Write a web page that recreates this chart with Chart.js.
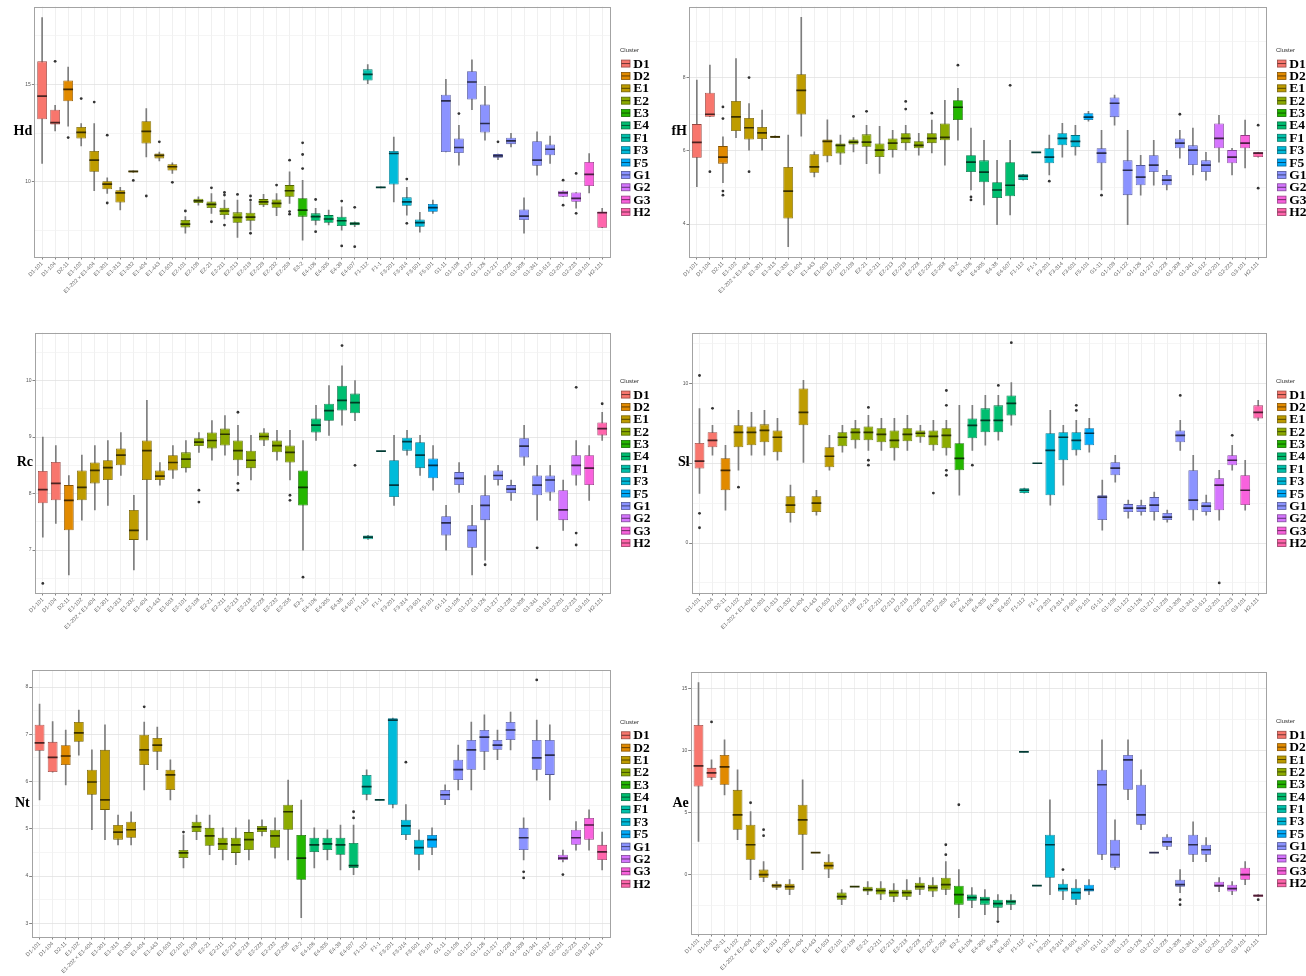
<!DOCTYPE html>
<html>
<head>
<meta charset="utf-8">
<script src="https://cdn.jsdelivr.net/npm/chart.js@4.4.1/dist/chart.umd.min.js"></script>
<style>
  html, body { margin: 0; padding: 0; background: #fff; }
  body { width: 1306px; height: 976px; overflow: hidden; position: relative; }
  canvas { position: absolute; }
</style>
</head>
<body>
<script>
// ---- categories and clusters ----
const clusterNames = ['D1','D2','E1','E2','E3','E4','F1','F3','F5','G1','G2','G3','H2'];
const categories = ['D1-101','D1-104','D2-11','E1-102','E1-202 × E1-404','E1-301','E1-313','E1-332','E1-404','E1-443','E1-503',
  'E2-101','E2-108','E2-21','E2-211','E2-213','E2-218','E2-228','E2-232','E2-258','E3-2','E4-106','E4-305','E4-38','E4-507',
  'F1-112','F1-1','F3-201','F3-314','F3-501','F5-101','G1-11','G1-108','G1-122','G1-126','G1-217','G1-228','G1-308','G1-341',
  'G1-512','G2-201','G2-223','G3-101','H2-121'];
const categoryCluster = [0,0,1,2,2,2,2,2,2,2,2,3,3,3,3,3,3,3,3,3,4,5,5,5,5,6,6,7,7,7,8,9,9,9,9,9,9,9,9,9,10,10,11,12];

// ---- y-axis tick labels per trait ----
const hdTicks = [10, 15];
const fhTicks = [4, 6, 8];
const rcTicks = [7, 8, 9, 10];
const slTicks = [0, 5, 10];
const ntTicks = [3, 4, 5, 6, 7, 8];
const aeTicks = [0, 5, 10, 15];

// ---- box statistics: [lower whisker, Q1, median, Q3, upper whisker] ----
const hdBoxes = [
  [10.94,13.21,14.40,16.18,18.42],[12.61,12.94,13.04,13.70,13.92],[12.85,14.13,14.74,15.20,15.89],[11.84,12.22,12.53,12.81,12.99],
  [9.54,10.51,11.11,11.58,12.99],[9.40,9.62,9.88,10.03,10.20],[8.55,8.94,9.43,9.57,9.71],[10.48,10.48,10.53,10.56,10.56],
  [11.28,11.96,12.59,13.11,13.76],[11.07,11.20,11.35,11.45,11.53],[10.43,10.58,10.77,10.90,10.97],[7.36,7.66,7.83,8.04,8.21],
  [8.80,8.91,9.02,9.13,9.23],[8.38,8.65,8.84,8.99,9.40],[8.09,8.29,8.50,8.67,9.06],[7.15,7.90,8.17,8.43,9.06],
  [7.52,8.00,8.19,8.41,8.97],[8.72,8.80,8.97,9.11,9.35],[8.26,8.67,8.89,9.09,9.40],[8.89,9.23,9.54,9.83,10.51],
  [7.01,8.21,8.55,9.16,10.08],[7.78,8.00,8.21,8.38,8.64],[7.78,7.90,8.09,8.29,8.55],[7.52,7.73,8.00,8.21,8.72],
  [7.70,7.77,7.85,7.92,7.95],[15.04,15.20,15.51,15.77,16.02],[9.69,9.69,9.71,9.74,9.74],[8.97,9.86,11.45,11.58,12.30],
  [8.29,8.77,8.97,9.20,9.71],[7.41,7.69,7.90,8.07,8.43],[8.38,8.46,8.67,8.86,9.06],[11.53,11.53,14.15,14.47,15.26],
  [10.85,11.48,11.76,12.22,12.90],[13.70,14.22,15.12,15.67,16.26],[12.13,12.53,12.99,13.96,14.90],[11.14,11.23,11.33,11.42,11.42],
  [11.79,11.93,12.10,12.26,12.48],[7.36,8.04,8.24,8.58,9.18],[10.34,10.82,11.11,12.08,12.56],[10.94,11.36,11.67,11.91,12.34],
  [9.23,9.23,9.43,9.54,9.54],[8.64,8.97,9.15,9.45,9.45],[9.43,9.78,10.38,11.02,11.45],[7.64,7.64,8.41,8.47,8.64]
];
const hdOutliers = [[1,16.18],[2,12.27],[3,14.27],[4,14.09],[5,12.39],[5,8.91],[7,10.07],[8,9.27],[9,12.05],[10,9.97],[11,8.50],
  [13,9.69],[13,7.95],[14,9.45],[14,9.32],[14,7.78],[15,9.35],[16,9.27],[16,9.06],[16,7.36],[18,9.83],[19,11.11],[19,8.47],[19,8.34],
  [20,12.00],[20,11.40],[20,10.68],[21,9.09],[21,7.44],[23,9.01],[23,6.71],[24,8.69],[24,6.67],[28,10.14],[28,7.87],[32,13.50],
  [35,12.05],[40,10.08],[40,8.80],[41,10.43],[41,8.38]];

const fhBoxes = [
  [5.02,5.81,6.23,6.73,7.93],[6.93,6.93,7.00,7.59,8.34],[5.13,5.65,5.83,6.13,6.38],[6.36,6.54,6.93,7.36,8.52],
  [6.02,6.31,6.63,6.90,7.29],[6.02,6.32,6.49,6.65,7.11],[6.36,6.36,6.38,6.41,6.41],[3.38,4.15,4.90,5.56,6.43],
  [6.40,6.99,7.65,8.09,9.65],[5.29,5.40,5.56,5.91,5.97],[5.70,5.85,6.26,6.31,6.85],[5.63,5.93,6.15,6.20,6.43],
  [5.97,6.17,6.24,6.31,6.36],[5.65,6.11,6.24,6.45,6.70],[5.38,5.83,6.02,6.20,6.67],[5.83,6.02,6.21,6.34,6.56],
  [6.02,6.21,6.34,6.48,6.70],[5.88,6.07,6.15,6.26,6.48],[5.94,6.21,6.34,6.48,6.84],[5.61,6.29,6.37,6.75,7.38],
  [6.29,6.84,7.19,7.38,7.71],[4.93,5.42,5.69,5.88,6.62],[4.52,5.14,5.42,5.74,6.29],[3.98,4.71,4.93,5.14,5.74],
  [4.25,4.76,5.06,5.69,6.29],[5.20,5.20,5.31,5.36,5.36],[5.96,5.96,5.96,5.96,5.96],[5.34,5.66,5.83,6.07,6.43],
  [5.83,6.15,6.34,6.48,6.75],[5.88,6.10,6.26,6.43,6.70],[6.81,6.84,6.92,7.03,7.08],[4.93,5.66,5.94,6.07,6.56],
  [6.70,6.92,7.30,7.46,7.52],[3.98,4.79,5.47,5.74,6.56],[4.79,5.06,5.28,5.61,5.88],[5.06,5.42,5.61,5.88,6.29],
  [4.93,5.06,5.20,5.34,5.47],[5.80,6.07,6.21,6.34,6.56],[5.34,5.61,6.02,6.15,6.62],[5.20,5.42,5.61,5.74,5.96],
  [5.69,6.07,6.34,6.75,6.97],[5.34,5.66,5.83,6.02,6.07],[5.53,6.07,6.21,6.43,6.84],[5.83,5.83,5.94,5.96,5.96]
];
const fhOutliers = [[1,5.43],[2,7.20],[2,6.88],[2,4.90],[2,4.79],[4,8.00],[4,5.43],[12,6.94],[13,7.08],[16,7.35],[16,7.14],
  [18,7.03],[20,8.34],[21,4.74],[21,4.66],[24,7.79],[27,5.17],[31,4.79],[37,7.00],[43,6.70],[43,4.98]];

const rcBoxes = [
  [7.23,7.83,8.07,8.40,9.00],[7.47,7.88,8.18,8.56,8.85],[6.56,7.35,7.88,8.15,8.32],[7.53,7.88,8.11,8.41,8.68],
  [7.71,8.18,8.41,8.55,8.85],[7.79,8.24,8.46,8.59,8.94],[8.32,8.50,8.68,8.80,9.08],[6.65,7.18,7.35,7.71,7.97],
  [7.18,8.24,8.76,8.94,9.65],[8.15,8.24,8.31,8.41,8.55],[8.27,8.41,8.55,8.68,8.85],[8.38,8.45,8.61,8.73,8.94],
  [8.73,8.84,8.91,8.98,9.08],[8.59,8.80,8.94,9.08,9.29],[8.68,8.85,9.05,9.15,9.38],[8.32,8.59,8.76,8.94,9.21],
  [8.24,8.45,8.59,8.76,9.03],[8.85,8.94,9.01,9.08,9.15],[8.59,8.73,8.85,8.94,9.12],[8.24,8.55,8.73,8.85,9.12],
  [7.00,7.79,8.11,8.41,8.94],[8.94,9.08,9.21,9.33,9.56],[9.03,9.29,9.47,9.59,9.91],[9.21,9.47,9.65,9.91,10.26],
  [9.29,9.42,9.61,9.77,10.00],[7.19,7.19,7.23,7.26,7.26],[8.75,8.75,8.75,8.75,8.75],[7.79,7.94,8.15,8.59,9.03],
  [8.68,8.76,8.92,8.99,9.12],[8.32,8.45,8.68,8.91,9.03],[8.06,8.27,8.50,8.62,8.85],[7.00,7.26,7.48,7.60,7.79],
  [8.02,8.15,8.27,8.38,8.55],[6.56,7.04,7.35,7.44,7.79],[6.82,7.53,7.79,7.97,8.32],[8.15,8.24,8.32,8.41,8.50],
  [7.88,8.01,8.08,8.15,8.24],[8.50,8.64,8.84,8.98,9.21],[7.53,7.97,8.15,8.32,8.50],[7.88,8.02,8.24,8.32,8.50],
  [7.35,7.53,7.71,8.06,8.24],[8.15,8.32,8.50,8.68,8.94],[7.88,8.15,8.45,8.68,8.85],[8.94,9.03,9.15,9.26,9.44]
];
const rcOutliers = [[0,6.41],[12,8.06],[12,7.85],[15,9.44],[15,8.18],[15,8.06],[19,7.97],[19,7.88],[20,6.52],[23,10.62],
  [24,8.50],[34,6.74],[38,7.04],[41,9.88],[41,7.30],[41,7.09],[43,9.59]];

const slBoxes = [
  [3.11,4.67,5.13,6.27,8.42],[5.50,6.00,6.44,6.94,7.38],[2.06,3.31,4.56,5.31,6.13],[4.56,6.00,6.94,7.38,8.31],
  [5.50,6.13,6.94,7.31,8.19],[5.50,6.31,7.06,7.44,8.31],[5.19,5.69,6.63,7.06,7.81],[1.31,1.88,2.38,2.94,3.63],
  [5.06,7.38,8.19,9.69,10.19],[1.75,1.94,2.50,2.94,3.31],[4.56,4.75,5.44,6.00,6.75],[5.69,6.06,6.63,6.94,7.38],
  [5.94,6.44,6.94,7.19,7.69],[5.81,6.44,6.94,7.31,8.00],[5.81,6.31,6.81,7.19,7.81],[5.19,5.94,6.44,7.06,7.81],
  [5.81,6.38,6.81,7.19,8.00],[6.31,6.63,6.88,7.06,7.38],[5.81,6.13,6.69,7.06,7.69],[5.50,5.94,6.75,7.19,7.69],
  [3.00,4.56,5.31,6.25,8.63],[5.81,6.56,7.38,7.81,8.63],[6.13,6.94,7.69,8.44,9.25],[6.44,6.94,7.69,8.63,9.25],
  [7.38,8.00,8.75,9.25,10.06],[3.13,3.13,3.31,3.44,3.44],[5.00,5.00,5.00,5.00,5.00],[2.38,3.00,5.81,6.88,8.31],
  [3.63,5.19,6.63,6.94,7.38],[5.50,5.81,6.44,6.94,7.69],[5.69,6.13,6.88,7.19,7.81],[0.81,1.44,2.88,3.00,3.94],
  [3.81,4.25,4.69,5.06,5.50],[1.56,1.94,2.19,2.44,2.69],[1.75,1.94,2.19,2.38,2.69],[1.44,1.94,2.38,2.88,3.19],
  [1.31,1.44,1.63,1.88,2.06],[5.81,6.31,6.75,7.06,7.69],[1.44,2.06,2.69,4.56,5.50],[1.75,1.94,2.31,2.56,3.00],
  [1.44,2.06,3.63,4.06,4.56],[4.56,4.88,5.19,5.50,6.13],[2.06,2.38,3.31,4.25,5.19],[7.69,7.81,8.19,8.63,8.94]
];
const slOutliers = [[0,10.5],[0,1.86],[0,0.96],[1,8.44],[3,3.50],[13,8.50],[13,5.19],[13,4.88],[18,3.13],[19,9.56],[19,8.63],
  [19,4.56],[19,4.25],[21,4.88],[23,9.88],[24,12.56],[29,8.63],[29,8.31],[37,9.25],[40,-2.5],[41,6.75]];

const ntBoxes = [
  [5.61,6.65,6.82,7.20,7.64],[6.20,6.20,6.51,6.84,7.27],[5.93,6.35,6.54,6.77,7.09],[6.56,6.84,7.03,7.26,7.51],
  [4.98,5.72,5.99,6.25,6.67],[4.77,5.40,5.61,6.67,7.20],[4.66,4.77,4.93,5.08,5.29],[4.66,4.81,4.98,5.15,5.36],
  [5.82,6.35,6.67,6.99,7.26],[6.25,6.63,6.77,6.92,7.15],[5.61,5.82,6.14,6.25,6.46],[4.17,4.38,4.49,4.55,4.87],
  [4.77,4.93,5.04,5.15,5.29],[4.45,4.64,4.85,5.02,5.29],[4.34,4.55,4.68,4.81,5.02],[4.24,4.49,4.66,4.81,5.02],
  [4.34,4.55,4.77,4.93,5.19],[4.85,4.93,5.00,5.06,5.19],[4.38,4.60,4.85,4.98,5.23],[4.34,4.98,5.36,5.51,6.03],
  [3.12,3.92,4.38,4.87,5.61],[4.17,4.51,4.66,4.81,5.02],[4.34,4.55,4.68,4.81,4.98],[4.13,4.45,4.66,4.81,5.08],
  [4.03,4.17,4.22,4.70,5.08],[5.61,5.72,5.89,6.14,6.25],[5.61,5.61,5.61,5.61,5.61],[5.44,5.51,7.30,7.34,7.34],
  [4.77,4.87,5.06,5.19,5.51],[4.13,4.45,4.60,4.77,4.98],[4.45,4.60,4.77,4.87,5.02],[5.51,5.61,5.72,5.82,5.93],
  [5.82,6.03,6.25,6.46,6.77],[5.82,6.25,6.67,6.88,7.26],[6.25,6.63,6.94,7.09,7.41],[6.46,6.67,6.77,6.88,7.09],
  [6.67,6.88,7.09,7.26,7.47],[4.34,4.55,4.81,5.02,5.23],[6.03,6.25,6.50,6.88,7.30],[5.61,6.14,6.56,6.88,7.20],
  [4.30,4.34,4.38,4.45,4.55],[4.55,4.66,4.81,4.98,5.15],[4.55,4.77,5.08,5.23,5.40],[4.13,4.34,4.51,4.66,4.93]
];
const ntOutliers = [[8,7.58],[11,4.93],[24,5.36],[24,5.23],[28,6.41],[37,4.09],[37,3.96],[38,8.15],[40,4.03]];

const aeBoxes = [
  [2.68,7.10,8.76,12.05,15.45],[7.64,7.80,8.20,8.60,9.24],[6.43,7.24,8.68,9.64,10.85],[2.82,3.62,4.82,6.83,8.44],
  [-0.40,1.21,2.41,4.02,5.07],[-0.56,-0.24,0.01,0.41,1.05],[-1.20,-1.04,-0.88,-0.72,-0.56],[-1.60,-1.20,-0.96,-0.72,-0.40],
  [0.41,3.22,4.42,5.63,7.64],[1.77,1.77,1.77,1.77,1.77],[-0.24,0.41,0.73,1.05,1.61],[-2.41,-2.01,-1.77,-1.44,-1.20],
  [-0.96,-0.96,-0.96,-0.96,-0.96],[-1.60,-1.36,-1.20,-0.96,-0.56],[-2.01,-1.60,-1.28,-1.04,-0.56],[-2.17,-1.77,-1.44,-1.20,-0.72],
  [-2.01,-1.77,-1.44,-1.20,-0.40],[-1.60,-1.20,-0.96,-0.64,-0.24],[-1.77,-1.36,-1.04,-0.80,-0.24],[-1.60,-1.20,-0.80,-0.24,1.05],
  [-3.45,-2.41,-1.60,-0.88,0.41],[-2.65,-2.09,-1.85,-1.60,-1.04],[-3.21,-2.41,-2.01,-1.77,-1.20],[-3.61,-2.65,-2.33,-2.01,-1.60],
  [-2.81,-2.41,-2.17,-2.01,-1.60],[9.88,9.88,9.88,9.88,9.88],[-0.88,-0.88,-0.88,-0.88,-0.88],[-1.60,-0.24,2.41,3.22,6.03],
  [-2.01,-1.36,-1.12,-0.72,-0.40],[-2.41,-2.01,-1.44,-1.04,-0.40],[-1.60,-1.36,-1.20,-0.80,-0.40],[1.21,1.61,7.24,8.44,10.85],
  [0.41,0.57,1.61,2.82,4.42],[6.03,6.83,9.24,9.64,10.85],[3.62,4.02,4.82,7.24,8.44],[1.77,1.77,1.77,1.77,1.77],
  [2.01,2.25,2.65,3.06,3.22],[-1.44,-0.96,-0.80,-0.40,0.41],[1.05,1.61,2.41,3.22,4.26],[1.05,1.61,2.01,2.41,2.98],
  [-1.36,-0.96,-0.88,-0.56,-0.24],[-1.60,-1.36,-1.12,-0.80,-0.56],[-0.80,-0.40,0.01,0.57,1.05],[-1.77,-1.77,-1.69,-1.60,-1.60]
];
const aeOutliers = [[1,12.29],[4,5.79],[5,3.62],[5,3.14],[19,2.41],[19,1.61],[20,5.63],[23,-3.77],[28,0.41],[37,-2.01],
  [37,-2.41],[43,-2.01]];

// ---- styling ----
const clusterColors = ['#F8766D','#E18A00','#BE9C00','#8CAB00','#24B700','#00BE70','#00C1AB','#00BBDA','#00ACFC',
  '#8B93FF','#D575FE','#F962DD','#FF65AC'];

function shade(hex, f) {
  const n = parseInt(hex.slice(1), 16);
  const r = Math.round(((n >> 16) & 255) * f), g = Math.round(((n >> 8) & 255) * f), b = Math.round((n & 255) * f);
  return `rgb(${r},${g},${b})`;
}

const fills = categoryCluster.map(c => clusterColors[c]);
const outlines = categoryCluster.map(c => shade(clusterColors[c], 0.6));
const medianInk = categoryCluster.map(c => shade(clusterColors[c], 0.3));

// y ticks: labelled majors plus unlabelled minor lines halfway between them
function yTickList(majors, min, max) {
  const half = (majors[1] - majors[0]) / 2;
  const out = [];
  let v = majors[0] - Math.ceil((majors[0] - min) / half) * half;
  for (; v <= max + 1e-9; v += half) {
    if (v < min - 1e-9) continue;
    const isMajor = majors.some(m => Math.abs(m - v) < 1e-9);
    out.push({ value: +v.toFixed(6), isMajor });
  }
  return out;
}

// frame, horizontal axis title and cluster key
const panelDecor = {
  id: 'panelDecor',
  afterDraw(chart, args, o) {
    const { ctx, chartArea: a } = chart;
    ctx.save();
    ctx.strokeStyle = '#a3a3a3';
    ctx.lineWidth = 1;
    ctx.strokeRect(Math.round(a.left) + 0.5, Math.round(a.top) + 0.5,
      Math.round(a.right - a.left), Math.round(a.bottom - a.top));

    ctx.fillStyle = '#000';
    ctx.font = 'bold 14px "Liberation Serif"';
    ctx.textAlign = 'right';
    ctx.textBaseline = 'middle';
    ctx.fillText(o.title, a.left - 2, (a.top + a.bottom) / 2);

    const step = 12.37;
    const mid = (a.top + a.bottom) / 2 + 6;
    const first = mid - 6 * step;
    const kx = a.right + 11.5;
    ctx.font = '6px "Liberation Sans"';
    ctx.fillStyle = '#333';
    ctx.textAlign = 'left';
    ctx.fillText('Cluster', a.right + 10, first - 13.3);
    ctx.font = 'bold 13.5px "Liberation Serif"';
    clusterNames.forEach((name, k) => {
      const y = first + k * step;
      ctx.fillStyle = clusterColors[k];
      ctx.fillRect(kx, y - 3.5, 8.5, 7);
      ctx.strokeStyle = shade(clusterColors[k], 0.6);
      ctx.lineWidth = 0.8;
      ctx.strokeRect(kx, y - 3.5, 8.5, 7);
      ctx.strokeStyle = shade(clusterColors[k], 0.3);
      ctx.beginPath(); ctx.moveTo(kx, y); ctx.lineTo(kx + 8.5, y); ctx.stroke();
      ctx.fillStyle = '#000';
      ctx.fillText(name, kx + 11.8, y + 0.5);
    });
    ctx.restore();
  }
};

function buildPanel(p) {
  const canvas = document.createElement('canvas');
  canvas.width = p.w; canvas.height = p.h;
  canvas.style.left = p.left + 'px'; canvas.style.top = p.top + 'px';
  document.body.appendChild(canvas);

  const yW = p.plotL - p.left;
  const xH = p.top + p.h - p.plotB;
  const unitPx = (p.plotR - p.plotL) / 44.2;

  new Chart(canvas, {
    type: 'bar',
    data: {
      datasets: [
        { type: 'bar', data: p.boxes.map((b, i) => ({ x: i, y: [b[0], b[4]] })),
          backgroundColor: '#7d7d7d', borderWidth: 0, barThickness: 1, grouped: false, order: 3 },
        { type: 'bar', data: p.boxes.map((b, i) => ({ x: i, y: [b[1], b[3]] })),
          backgroundColor: fills, borderColor: outlines, borderWidth: 0.8, borderSkipped: false,
          grouped: false, barPercentage: 0.75, categoryPercentage: 1, order: 2 },
        { type: 'scatter', data: p.boxes.map((b, i) => ({ x: i, y: b[2] })),
          pointStyle: 'line', pointRadius: unitPx * 0.75 / 2, borderWidth: 1.7,
          borderColor: medianInk, order: 1 },
        { type: 'scatter', data: p.outliers.map(([i, v]) => ({ x: i, y: v })),
          pointStyle: 'circle', pointRadius: 1.4, backgroundColor: '#333', borderWidth: 0, order: 0 }
      ]
    },
    options: {
      responsive: false,
      animation: false,
      devicePixelRatio: 1,
      events: [],
      layout: { padding: { left: 0, top: p.plotT - p.top, right: p.left + p.w - p.plotR, bottom: 0 } },
      plugins: { legend: { display: false }, tooltip: { enabled: false }, panelDecor: { title: p.title } },
      scales: {
        x: {
          type: 'linear', min: -0.6, max: categories.length - 0.4, offset: false,
          afterBuildTicks: s => { s.ticks = categories.map((_, i) => ({ value: i })); },
          afterFit: s => { s.height = xH; },
          ticks: { autoSkip: false, minRotation: 45, maxRotation: 45, padding: 1, color: '#666',
                   font: { size: 5.5, family: 'Liberation Sans' },
                   callback: (v, i) => categories[i] },
          grid: { color: '#ececec', lineWidth: 0.8, offset: false, tickLength: 2.5, tickColor: '#666' },
          border: { display: false }
        },
        y: {
          type: 'linear', min: p.min, max: p.max,
          afterBuildTicks: s => { s.ticks = yTickList(p.ticks, p.min, p.max); },
          afterFit: s => { s.width = yW; },
          ticks: { autoSkip: false, padding: 1, color: '#555', font: { size: 5, family: 'Liberation Sans' },
                   callback: (v, i, t) => (t[i] && t[i].isMajor ? String(v) : '') },
          grid: { lineWidth: 0.8, tickLength: 2.5,
                  color: c => (c.tick && c.tick.isMajor ? '#e2e2e2' : '#f2f2f2'),
                  tickColor: c => (c.tick && c.tick.isMajor ? '#666' : 'rgba(0,0,0,0)') },
          border: { display: false }
        }
      }
    },
    plugins: [panelDecor]
  });
}

const panels = [
  { title: 'Hd', boxes: hdBoxes, outliers: hdOutliers, ticks: hdTicks, min: 6.14, max: 18.99,
    left: 0, top: 0, w: 653, h: 326, plotL: 34.3, plotR: 610, plotT: 6, plotB: 257 },
  { title: 'fH', boxes: fhBoxes, outliers: fhOutliers, ticks: fhTicks, min: 3.10, max: 9.94,
    left: 653, top: 0, w: 700, h: 326, plotL: 689, plotR: 1266, plotT: 6, plotB: 257 },
  { title: 'Rc', boxes: rcBoxes, outliers: rcOutliers, ticks: rcTicks, min: 6.24, max: 10.85,
    left: 0, top: 326, w: 653, h: 336, plotL: 35, plotR: 610, plotT: 332, plotB: 593 },
  { title: 'Sl', boxes: slBoxes, outliers: slOutliers, ticks: slTicks, min: -3.13, max: 13.19,
    left: 653, top: 326, w: 700, h: 336, plotL: 691.7, plotR: 1266, plotT: 332, plotB: 593 },
  { title: 'Nt', boxes: ntBoxes, outliers: ntOutliers, ticks: ntTicks, min: 2.71, max: 8.36,
    left: 0, top: 662, w: 653, h: 314, plotL: 31.7, plotR: 610, plotT: 670, plotB: 937 },
  { title: 'Ae', boxes: aeBoxes, outliers: aeOutliers, ticks: aeTicks, min: -4.77, max: 16.31,
    left: 653, top: 662, w: 700, h: 314, plotL: 690.7, plotR: 1266, plotT: 672, plotB: 934 }
];
panels.forEach(buildPanel);
</script>
</body>
</html>
